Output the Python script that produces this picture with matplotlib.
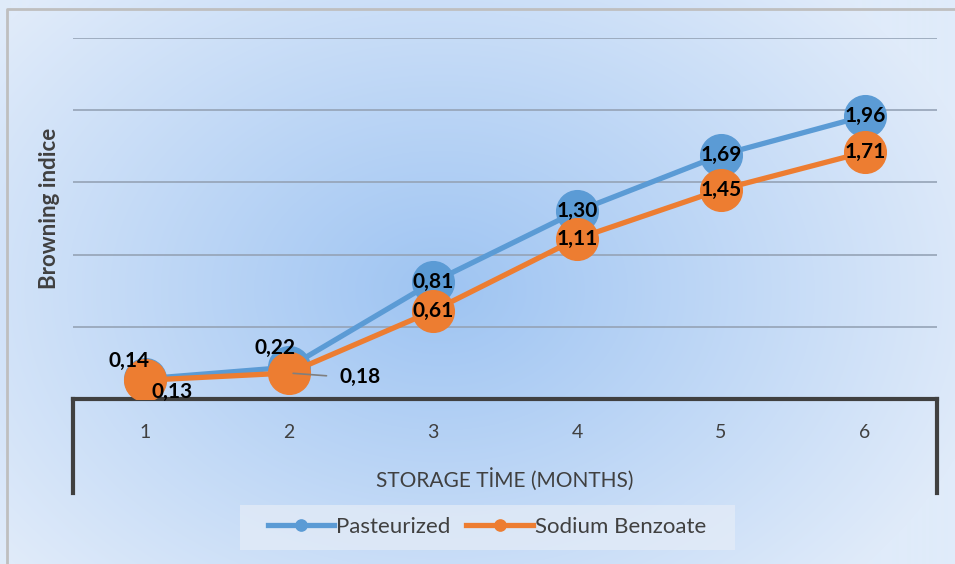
import numpy as np
import matplotlib.pyplot as plt
from matplotlib.patches import Rectangle

months = ["1", "2", "3", "4", "5", "6"]
pasteurized = [0.14, 0.22, 0.81, 1.30, 1.69, 1.96]
benzoate = [0.13, 0.18, 0.61, 1.11, 1.45, 1.71]

blue = "#5b9bd5"
orange = "#ed7d31"
grey = "#404040"
plt.rcParams['font.family'] = ['Lato', 'DejaVu Sans']

fig = plt.figure(figsize=(9.55, 5.64), dpi=100)

# radial gradient background
bg = fig.add_axes([0, 0, 1, 1], zorder=-10)
yy, xx = np.mgrid[0:564, 0:955]
r = np.sqrt(((xx - 440) / 560.0) ** 2 + ((yy - 290) / 420.0) ** 2)
r = np.clip(r, 0, 1)[..., None]
c0 = np.array([158, 196, 242]) / 255.0
c1 = np.array([224, 235, 250]) / 255.0
img = c0 * (1 - r) + c1 * r
bg.imshow(img, extent=[0, 955, 564, 0], aspect='auto')
bg.set_xlim(0, 955)
bg.set_ylim(564, 0)
bg.axis('off')
bg.plot([7, 7, 955], [564, 9, 9], color="#bfbfbf", lw=2)
# legend background panel
bg.add_patch(Rectangle((240, 505), 495, 45, facecolor="#e4ecf7", alpha=0.75,
                       edgecolor='none'))

ax = fig.add_axes([73 / 955, (564 - 399) / 564, (937 - 73) / 955, (399 - 38) / 564])
ax.patch.set_alpha(0)
x = np.arange(len(months))

ax.plot(x, pasteurized, color=blue, lw=3.8, marker='o', ms=30, mec=blue,
        label="Pasteurized", zorder=3)
ax.plot(x, benzoate, color=orange, lw=3.8, marker='o', ms=30, mec=orange,
        label="Sodium Benzoate", zorder=4)

ax.set_xlim(-0.5, len(months) - 0.5)
ax.set_ylim(0, 2.5)
ax.set_yticks([0.5, 1.0, 1.5, 2.0, 2.5])
ax.yaxis.grid(True, color="#95a3b6", lw=1.2)
ax.tick_params(axis='y', left=False, labelleft=False)
ax.set_xticks(x)
ax.set_xticklabels(months, fontsize=14, color=grey)
ax.tick_params(axis='x', length=0, pad=18)
for s in ['top', 'right', 'left']:
    ax.spines[s].set_visible(False)
ax.spines['bottom'].set_color(grey)
ax.spines['bottom'].set_linewidth(3)
ax.set_axisbelow(True)

# side brackets under the axis
for xv in [-0.5, len(months) - 0.5]:
    ax.plot([xv, xv], [0, -0.26], transform=ax.get_xaxis_transform(),
            color=grey, lw=3, clip_on=False)

ax.set_xlabel("STORAGE TİME (MONTHS)", fontsize=15, color=grey, labelpad=19)
fig.text(50 / 955, 1 - 208 / 564, "Browning indice", rotation=90, fontsize=16,
         fontweight='bold', color=grey, ha='center', va='center')

def fmt(v):
    return f"{v:.2f}".replace(".", ",")

lab = dict(fontsize=15, fontweight='bold', color='black', ha='center',
           va='center', textcoords='offset points', zorder=6)
p_off = [(-11.5, 13), (-10, 14), (0, 0), (0, 0), (0, 0), (0, 0)]
b_off = [(19.5, -8.5), (51, -3), (0, 0), (0, 0), (0, 0), (0, 0)]
for i in range(len(months)):
    ax.annotate(fmt(pasteurized[i]), (x[i], pasteurized[i]), xytext=p_off[i], **lab)
    ax.annotate(fmt(benzoate[i]), (x[i], benzoate[i]), xytext=b_off[i], **lab)
# leader line for 0,18
ax.annotate("", (x[1], benzoate[1]), xytext=(27, -2), textcoords='offset points',
            arrowprops=dict(arrowstyle='-', color="#7f7f7f", lw=1.2,
                            shrinkA=0, shrinkB=3), zorder=6)

leg = ax.legend(loc='center', bbox_to_anchor=(487 / 955, 1 - 527 / 564),
                bbox_transform=fig.transFigure, ncol=2, frameon=False,
                fontsize=16, markerscale=0.27, handlelength=3.0,
                columnspacing=0.7, handletextpad=0.1, borderpad=0,
                borderaxespad=0)
for t in leg.get_texts():
    t.set_color(grey)

fig.savefig("out.png", dpi=100)
